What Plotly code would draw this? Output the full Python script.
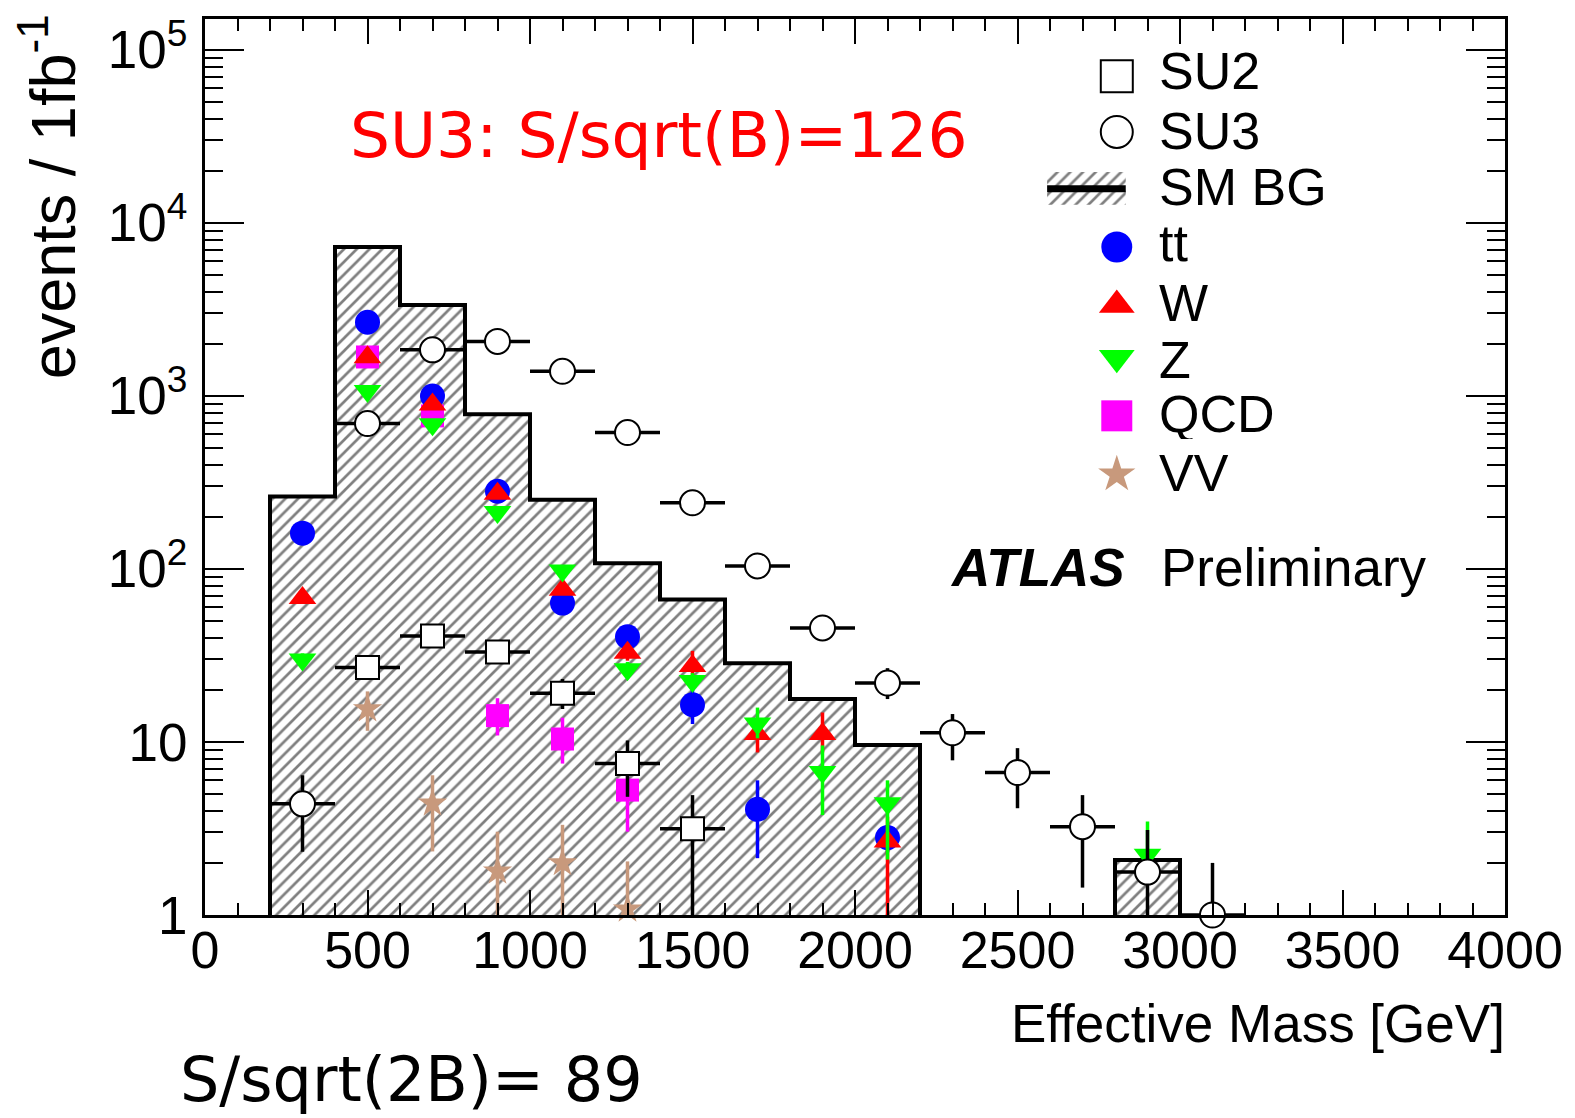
import plotly.graph_objects as go

# ---------------- data ----------------
# SM background histogram: 200 GeV bins (left edges)
bin_left = [200, 400, 600, 800, 1000, 1200, 1400, 1600, 1800, 2000, 2200, 2400, 2600, 2800]
bin_width = 200
sm_bg = [262, 7240, 3350, 782, 251, 108, 66.5, 28.5, 17.7, 9.6, 0, 0, 0, 2.08]

# point positions (bin centres)
mass = [300, 500, 700, 900, 1100, 1300, 1500, 1700, 1900, 2100, 2300, 2500, 2700, 2900, 3100]

su3    = [4.39, 692, 1845, 2064, 1387, 614, 241, 104, 45.6, 21.9, 11.3, 6.66, 3.24, 1.77, 1.0]
su3_hi = [6.42, 720, 1900, 2110, 1420, 635, 252, 111, 50.0, 26.7, 14.5, 9.21, 4.93, 3.10, 2.0]
su3_lo = [2.32, 665, 1790, 2020, 1350, 595, 230, 97, 41.5, 17.7, 7.83, 4.14, 1.44, 1.0, 1.0]

su2    = [None, 26.9, 40.9, 33.1, 19.1, 7.5, 3.15, None, None, None, None, None, None, None, None]
su2_hi = [None, 30.0, 45.0, 36.5, 23.1, 10.2, 4.93, None, None, None, None, None, None, None, None]
su2_lo = [None, 24.0, 37.0, 30.0, 15.5, 4.82, 1.0, None, None, None, None, None, None, None, None]

tt    = [161, 2663, 997, 281, 63.5, 40.5, 16.4, 4.08, None, 2.80, None, None, None, None, None]
tt_hi = [170, 2750, 1040, 295, 67.0, 43.0, 20.0, 6.0, None, 3.3, None, None, None, None, None]
tt_lo = [152, 2580, 955, 268, 60.0, 38.0, 12.7, 2.13, None, 2.3, None, None, None, None, None]

w    = [67.8, 1670, 893, 272, 75.7, 32.8, 27.5, 11.1, 11.1, 2.66, None, None, None, None, None]
w_hi = [72.0, 1720, 925, 285, 80.0, 36.0, 33.6, 12.5, 14.8, 3.7, None, None, None, None, None]
w_lo = [63.5, 1620, 860, 259, 71.0, 29.5, 24.0, 8.7, 8.7, 1.0, None, None, None, None, None]

z    = [30.0, 1066, 685, 213, 97.8, 26.3, 22.5, 12.8, 6.71, 4.42, None, None, None, 2.23, None]
z_hi = [32.5, 1100, 710, 222, 103, 29.0, 25.0, 15.8, 9.55, 6.0, None, None, None, 3.47, None]
z_lo = [27.5, 1030, 660, 204, 92.5, 23.5, 20.0, 10.5, 3.78, 2.09, None, None, None, 1.5, None]

qcd    = [None, 1678, 766, 14.2, 10.4, 5.27, None, None, None, None, None, None, None, None, None]
qcd_hi = [None, 1740, 800, 17.9, 13.8, 7.5, None, None, None, None, None, None, None, None, None]
qcd_lo = [None, 1620, 735, 10.9, 7.5, 3.03, None, None, None, None, None, None, None, None, None]

vv    = [None, 15.5, 4.42, 1.79, 2.0, 1.08, None, None, None, None, None, None, None, None, None]
vv_hi = [None, 19.6, 6.42, 3.03, 3.32, 2.04, None, None, None, None, None, None, None, None, None]
vv_lo = [None, 11.6, 2.33, 1.0, 1.0, 1.0, None, None, None, None, None, None, None, None, None]

x_ticks = [0, 500, 1000, 1500, 2000, 2500, 3000, 3500, 4000]
y_tickvals = [1, 10, 100, 1000, 10000, 100000]
y_ticktext = ["1", "10", "10<sup>2</sup>", "10<sup>3</sup>", "10<sup>4</sup>", "10<sup>5</sup>"]

legend_names = ["SU2", "SU3", "SM BG", "tt", "W", "Z", "QCD", "VV"]

# ---------------- style ----------------
C_TT, C_W, C_Z, C_QCD, C_VV = "#0000ff", "#ff0000", "#00ff00", "#ff00ff", "#c8997c"
HELV = "Liberation Sans, Arial, Helvetica, sans-serif"
DEJA = "DejaVu Sans, sans-serif"
W_PX, H_PX = 1575, 1118
PL, PR, PT, PB = 205, 1511, 13, 915
Y_LOG_MAX = 5.178
HATCH = dict(shape="/", fgcolor="black", bgcolor="white", size=9, solidity=0.3)


def fx(px):
    return (px - PL) / (PR - PL)


def fy(py):
    return (PB - py) / (PB - PT)


def errs(vals, hi, lo):
    plus, minus = [], []
    for v, h, l in zip(vals, hi, lo):
        if v is None:
            plus.append(None)
            minus.append(None)
        else:
            plus.append(h - v)
            minus.append(v - l)
    return plus, minus


fig = go.Figure()

# hatched SM background (fill)
centres = [l + bin_width / 2 for l in bin_left]
fig.add_trace(go.Bar(
    x=centres, y=[v if v > 0 else None for v in sm_bg], width=bin_width,
    marker=dict(color="white", line=dict(width=0), pattern=HATCH),
    showlegend=False, hoverinfo="skip"))

# step outline built from histogram data
floor = 10 ** 0
ox, oy = [], []
run = False
for l, v in zip(bin_left, sm_bg):
    if v > 0:
        if not run:
            ox.append(l); oy.append(floor)
            run = True
        ox += [l, l + bin_width]
        oy += [v, v]
    else:
        if run:
            ox += [ox[-1], None]; oy += [floor, None]
            run = False
if run:
    ox.append(ox[-1]); oy.append(floor)
fig.add_trace(go.Scatter(x=ox, y=oy, mode="lines", line=dict(color="black", width=4),
                         showlegend=False, hoverinfo="skip"))


def add_points(vals, hi, lo, color, symbol, size, xerr=False, fill=None, line_w=0, clip=True):
    plus, minus = errs(vals, hi, lo)
    marker = dict(symbol=symbol, size=size, color=fill if fill else color,
                  line=dict(color=color, width=line_w))
    ex = dict(type="constant", value=bin_width / 2, color=color, thickness=3.5, width=0) if xerr \
        else dict(visible=False)
    fig.add_trace(go.Scatter(
        x=mass, y=vals, mode="markers", marker=marker, cliponaxis=clip,
        error_y=dict(type="data", symmetric=False, array=plus, arrayminus=minus,
                     color=color, thickness=3.5, width=0),
        error_x=ex, showlegend=False))


add_points(qcd, qcd_hi, qcd_lo, C_QCD, "square", 23)
add_points(tt, tt_hi, tt_lo, C_TT, "circle", 25)
add_points(w, w_hi, w_lo, C_W, "triangle-up", 24)
add_points(z, z_hi, z_lo, C_Z, "triangle-down", 24)
add_points(vv, vv_hi, vv_lo, C_VV, "star", 22, clip=False)
add_points(su2, su2_hi, su2_lo, "black", "square", 23, xerr=True, fill="white", line_w=2)
add_points(su3, su3_hi, su3_lo, "black", "circle", 25, xerr=True, fill="white", line_w=2, clip=False)

# ---------------- custom legend (overlay axis in plot fraction) ----------------
leg_x = fx(1121)
leg_rows = [70.7, 126.7, 184, 242.5, 301, 354, 412.5, 471.5]
leg_styles = [
    ("square", 32, "white", "black", 2),
    ("circle", 32, "white", "black", 2),
    None,
    ("circle", 31, C_TT, C_TT, 0),
    ("triangle-up", 31, C_W, C_W, 0),
    ("triangle-down", 31, C_Z, C_Z, 0),
    ("square", 31, C_QCD, C_QCD, 0),
    ("star", 28, C_VV, C_VV, 0),
]
for row, st in zip(leg_rows, leg_styles):
    if st is None:
        continue
    sym, sz, fc, lc, lw = st
    fig.add_trace(go.Scatter(x=[leg_x], y=[fy(row)], xaxis="x2", yaxis="y2", mode="markers",
                             marker=dict(symbol=sym, size=sz, color=fc, line=dict(color=lc, width=lw)),
                             showlegend=False, hoverinfo="skip", cliponaxis=False))

# SM BG legend entry: hatched box + thick line
bx0, bx1, by0, by1 = fx(1051), fx(1130), fy(200), fy(167)
fig.add_trace(go.Scatter(x=[bx0, bx1, bx1, bx0, bx0], y=[by0, by0, by1, by1, by0],
                         xaxis="x2", yaxis="y2", mode="lines", fill="toself",
                         fillcolor="white", line=dict(width=0), fillpattern=HATCH,
                         showlegend=False, hoverinfo="skip"))
fig.add_trace(go.Scatter(x=[bx0, bx1], y=[fy(184), fy(184)], xaxis="x2", yaxis="y2", mode="lines",
                         line=dict(color="black", width=7), showlegend=False, hoverinfo="skip"))

annotations = []
leg_text_rows = [65, 126, 182, 238, 299, 356, 411, 470]
for name, row in zip(legend_names, leg_text_rows):
    annotations.append(dict(text=name, x=fx(1161), y=fy(row), xref="paper", yref="paper",
                            xanchor="left", yanchor="middle", showarrow=False, height=50,
                            font=dict(family=HELV, size=52, color="black")))

annotations += [
    dict(text="SU3: S/sqrt(B)=126", x=fx(349), y=fy(130), xanchor="left", yanchor="middle",
         font=dict(family=DEJA, size=63, color="#ff0000")),
    dict(text="S/sqrt(2B)= 89", x=fx(178), y=fy(1081), xanchor="left", yanchor="middle",
         font=dict(family=DEJA, size=62, color="black")),
    dict(text="Effective Mass [GeV]", x=fx(1513), y=fy(1024), xanchor="right", yanchor="middle",
         font=dict(family=HELV, size=53, color="black")),
    dict(text="events / 1fb<sup>-1</sup>", x=fx(47), y=fy(6), xanchor="center", yanchor="top",
         textangle=-90, font=dict(family=HELV, size=63, color="black")),
    dict(text="<b><i>ATLAS</i></b>", x=fx(951), y=fy(565), xanchor="left", yanchor="middle",
         font=dict(family=HELV, size=53, color="black")),
    dict(text="Preliminary", x=fx(1163), y=fy(565), xanchor="left", yanchor="middle",
         font=dict(family=HELV, size=53, color="black")),
]
for a in annotations:
    a.setdefault("xref", "paper")
    a.setdefault("yref", "paper")
    a.setdefault("showarrow", False)

fig.update_layout(
    width=W_PX, height=H_PX,
    margin=dict(l=PL, r=W_PX - PR, t=PT, b=H_PX - PB),
    paper_bgcolor="white", plot_bgcolor="white",
    bargap=0, showlegend=False,
    annotations=annotations,
    xaxis=dict(range=[0, 4000], tickvals=x_ticks, ticks="inside", ticklen=25, tickwidth=2,
               tickcolor="black", showline=True, linewidth=3, linecolor="black", mirror="allticks",
               showgrid=False, zeroline=False, ticklabelstandoff=-12,
               tickfont=dict(family=HELV, size=52, color="black"),
               minor=dict(dtick=100, ticks="inside", ticklen=12, tickwidth=2, tickcolor="black",
                          showgrid=False)),
    yaxis=dict(type="log", range=[0, Y_LOG_MAX], tickvals=y_tickvals, ticktext=y_ticktext,
               ticks="inside", ticklen=39, tickwidth=2, tickcolor="black",
               showline=True, linewidth=3, linecolor="black", mirror="allticks",
               showgrid=False, zeroline=False, ticklabelstandoff=4,
               tickfont=dict(family=HELV, size=53, color="black"),
               minor=dict(dtick="D1", ticks="inside", ticklen=18, tickwidth=2, tickcolor="black",
                          showgrid=False)),
    xaxis2=dict(overlaying="x", range=[0, 1], visible=False),
    yaxis2=dict(overlaying="y", range=[0, 1], visible=False),
)

fig.write_html("out.html")
